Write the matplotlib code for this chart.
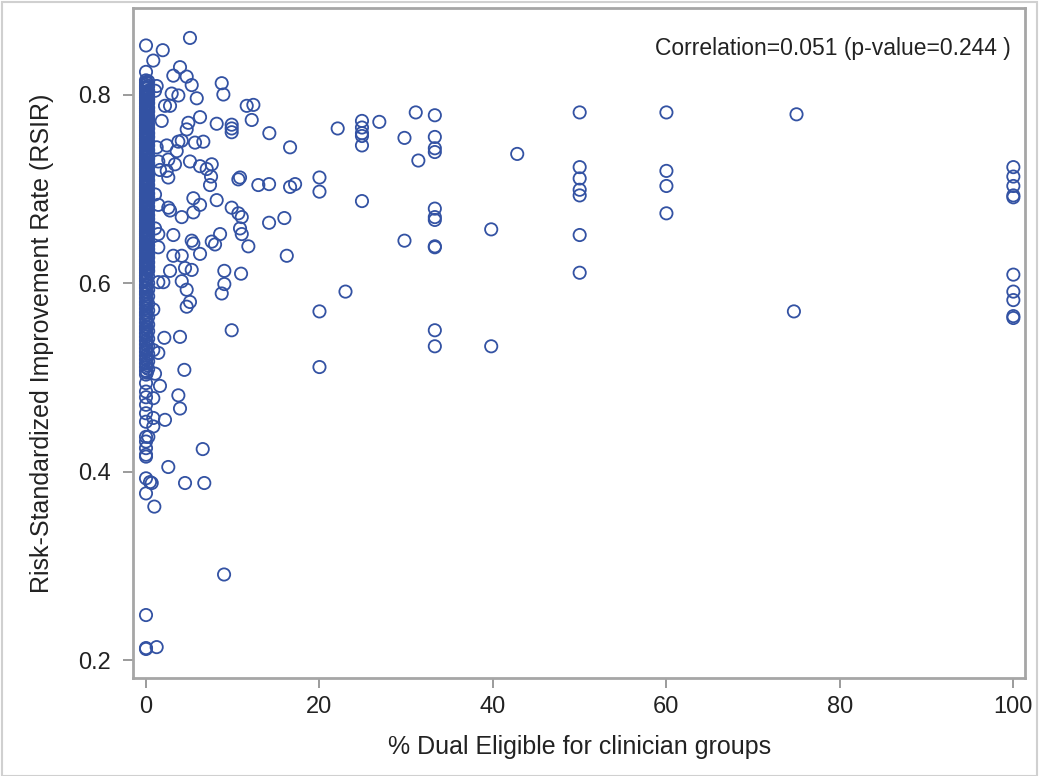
import matplotlib
matplotlib.use("Agg")
import matplotlib.pyplot as plt
from matplotlib.patches import Rectangle

plt.rcParams['font.family'] = ['Liberation Sans', 'DejaVu Sans']

# groups with ~0% dual eligible (dense column at the left edge)
zero_y = [0.852, 0.824, 0.815, 0.813, 0.810, 0.808, 0.806, 0.803, 0.801, 0.799, 0.797, 0.794,
          0.792, 0.790, 0.787, 0.785, 0.783, 0.781, 0.778, 0.776, 0.774, 0.771, 0.769, 0.767,
          0.765, 0.762, 0.760, 0.758, 0.756, 0.753, 0.751, 0.749, 0.747, 0.744, 0.742, 0.740,
          0.737, 0.735, 0.733, 0.731, 0.728, 0.726, 0.724, 0.721, 0.719, 0.717, 0.715, 0.712,
          0.710, 0.708, 0.705, 0.703, 0.701, 0.699, 0.696, 0.694, 0.692, 0.689, 0.687, 0.685,
          0.683, 0.680, 0.678, 0.676, 0.673, 0.671, 0.669, 0.667, 0.664, 0.662, 0.660, 0.657,
          0.655, 0.653, 0.651, 0.648, 0.646, 0.644, 0.641, 0.639, 0.637, 0.635, 0.632, 0.630,
          0.628, 0.625, 0.623, 0.621, 0.619, 0.616, 0.614, 0.611, 0.608, 0.605, 0.602, 0.598,
          0.595, 0.591, 0.588, 0.584, 0.580, 0.577, 0.573, 0.569, 0.566, 0.562, 0.558, 0.554,
          0.551, 0.547, 0.543, 0.539, 0.535, 0.531, 0.527, 0.523, 0.519, 0.515, 0.511, 0.507,
          0.503, 0.494, 0.485, 0.479, 0.471, 0.462, 0.453, 0.437, 0.432, 0.425, 0.418, 0.416,
          0.393, 0.377, 0.248, 0.212, 0.213]

# more groups at ~0.1% and ~0.25%
tiny_y = [0.812, 0.807, 0.802, 0.798, 0.793, 0.789, 0.784, 0.780, 0.775, 0.771, 0.766, 0.761,
          0.757, 0.752, 0.748, 0.743, 0.739, 0.734, 0.730, 0.725, 0.720, 0.716, 0.711, 0.707,
          0.702, 0.698, 0.693, 0.688, 0.684, 0.679, 0.675, 0.670, 0.666, 0.661, 0.656, 0.652,
          0.647, 0.643, 0.638, 0.634, 0.629, 0.624, 0.620, 0.615, 0.610, 0.604, 0.597, 0.590,
          0.582, 0.575, 0.567, 0.560, 0.553, 0.545, 0.537, 0.529, 0.521, 0.513, 0.505]
near_zero_y = [0.814, 0.809, 0.804, 0.800, 0.795, 0.791, 0.786, 0.782, 0.777, 0.773, 0.768,
               0.764, 0.759, 0.755, 0.750, 0.746, 0.741, 0.736, 0.732, 0.727, 0.723, 0.718,
               0.714, 0.709, 0.704, 0.700, 0.695, 0.691, 0.686, 0.681, 0.677, 0.672, 0.668,
               0.663, 0.659, 0.654, 0.650, 0.645, 0.640, 0.636, 0.631, 0.627, 0.622, 0.617,
               0.613, 0.607, 0.600, 0.593, 0.586, 0.578, 0.571, 0.564, 0.556, 0.549, 0.541,
               0.533, 0.525, 0.517, 0.509]

# groups with a small but non-zero share (0-17%)
low_x = [5.07, 1.93, 0.84, 3.92, 3.15, 4.69, 5.27, 8.73, 8.92, 1.23, 1.04, 2.96, 3.73, 5.85,
         2.19, 2.77, 11.61, 12.38, 12.19, 6.23, 4.88, 1.81, 8.15, 9.88, 9.88, 9.88, 4.69, 14.22,
         16.61, 5.65, 6.61, 3.73, 4.12, 2.39, 1.23, 3.54, 5.07, 6.23, 7.58, 7.00, 2.57, 1.42,
         1.61, 3.34, 2.39, 2.57, 7.50, 7.38, 10.65, 10.84, 12.95, 14.19, 16.61, 17.19, 1.04,
         1.42, 2.57, 2.77, 5.46, 6.23, 8.15, 9.88, 10.65, 4.12, 5.46, 11.04, 14.19, 15.95,
         10.84, 11.04, 8.54, 1.04, 1.42, 3.15, 5.27, 7.58, 1.42, 3.15, 4.12, 5.46, 6.23, 7.96,
         11.80, 16.23, 2.77, 4.50, 5.27, 4.12, 4.69, 1.42, 2.00, 9.03, 10.96, 9.03, 8.73, 5.07,
         4.69, 0.84, 9.88, 2.11, 3.92, 0.84, 1.42, 1.04, 1.61, 4.42, 3.73, 3.92, 0.84, 2.19,
         0.84, 0.84, 0.27, 6.54, 2.57, 0.46, 0.66, 0.96, 4.50, 6.72, 9.00, 1.23]
low_y = [0.860, 0.847, 0.836, 0.829, 0.820, 0.819, 0.810, 0.812, 0.800, 0.809, 0.804, 0.801,
         0.799, 0.796, 0.788, 0.788, 0.788, 0.789, 0.773, 0.776, 0.770, 0.772, 0.769, 0.768,
         0.764, 0.760, 0.763, 0.759, 0.744, 0.749, 0.750, 0.750, 0.751, 0.746, 0.744, 0.740,
         0.729, 0.724, 0.726, 0.721, 0.731, 0.729, 0.720, 0.726, 0.719, 0.712, 0.713, 0.704,
         0.710, 0.712, 0.704, 0.705, 0.702, 0.705, 0.694, 0.683, 0.680, 0.677, 0.690, 0.683,
         0.688, 0.680, 0.674, 0.670, 0.675, 0.670, 0.664, 0.669, 0.658, 0.652, 0.652, 0.658,
         0.652, 0.651, 0.645, 0.644, 0.638, 0.629, 0.629, 0.642, 0.631, 0.641, 0.639, 0.629,
         0.613, 0.616, 0.614, 0.602, 0.593, 0.601, 0.601, 0.613, 0.610, 0.599, 0.589, 0.580,
         0.575, 0.572, 0.550, 0.542, 0.543, 0.529, 0.526, 0.504, 0.491, 0.508, 0.481, 0.467,
         0.478, 0.455, 0.457, 0.448, 0.437, 0.424, 0.405, 0.389, 0.388, 0.363, 0.388, 0.388,
         0.291, 0.214]

# groups from 20% to 100%
high_x = [20.0, 20.0, 20.0, 20.0, 22.1, 23.0, 24.9, 24.9, 24.9, 24.9, 24.9, 24.9, 26.9, 29.8,
          29.8, 31.1, 31.4, 33.3, 33.3, 33.3, 33.3, 33.3, 33.3, 33.3, 33.3, 33.3, 33.3, 33.3,
          39.8, 39.8, 42.8, 50.0, 50.0, 50.0, 50.0, 50.0, 50.0, 50.0, 60.0, 60.0, 60.0, 60.0,
          74.7, 75.0, 100.0, 100.0, 100.0, 100.0, 100.0, 100.0, 100.0, 100.0, 100.0, 100.0]
high_y = [0.712, 0.697, 0.570, 0.511, 0.764, 0.591, 0.772, 0.765, 0.759, 0.756, 0.746, 0.687,
          0.771, 0.754, 0.645, 0.781, 0.730, 0.778, 0.755, 0.743, 0.739, 0.679, 0.670, 0.667,
          0.639, 0.638, 0.550, 0.533, 0.657, 0.533, 0.737, 0.781, 0.723, 0.711, 0.699, 0.693,
          0.651, 0.611, 0.781, 0.719, 0.703, 0.674, 0.570, 0.779, 0.723, 0.713, 0.703, 0.693,
          0.691, 0.609, 0.591, 0.582, 0.565, 0.563]

x_ticks = [0, 20, 40, 60, 80, 100]
y_ticks = [0.2, 0.4, 0.6, 0.8]

x_vals = [0.0] * len(zero_y) + [0.1] * len(tiny_y) + [0.25] * len(near_zero_y) + low_x + high_x
y_vals = zero_y + tiny_y + near_zero_y + low_y + high_y

fig = plt.figure(figsize=(10.39, 7.76), dpi=100)
ax = fig.add_axes([0.128, 0.126, 0.859, 0.864])

ax.scatter(x_vals, y_vals, s=78, facecolors="none", edgecolors="#3352A3", linewidths=1.3)

ax.set_xlim(-1.5, 101.4)
ax.set_ylim(0.181, 0.892)
ax.set_xticks(x_ticks)
ax.set_yticks(y_ticks)
ax.set_xticklabels([str(t) for t in x_ticks])
ax.set_yticklabels([f"{t:.1f}" for t in y_ticks])
ax.tick_params(axis="both", length=7, width=1.2, color="#8a8a8a", labelsize=17,
               labelcolor="#222222")
ax.tick_params(axis="y", pad=9)
ax.tick_params(axis="x", pad=6)
for sp in ax.spines.values():
    sp.set_color("#a6a6a6")
    sp.set_linewidth(2)

ax.set_xlabel("% Dual Eligible for clinician groups", fontsize=18, color="#222222", labelpad=12)
ax.set_ylabel("Risk-Standardized Improvement Rate (RSIR)", fontsize=18, color="#222222", labelpad=17)
ax.text(0.984, 0.957, "Correlation=0.051 (p-value=0.244 )", transform=ax.transAxes,
        ha="right", va="top", fontsize=16.5, color="#222222")

fig.patches.append(Rectangle((0.002, 0.0), 0.996, 0.998, transform=fig.transFigure,
                             fill=False, edgecolor="#d0d0d0", linewidth=1.5))

fig.savefig("out.png", dpi=100)
